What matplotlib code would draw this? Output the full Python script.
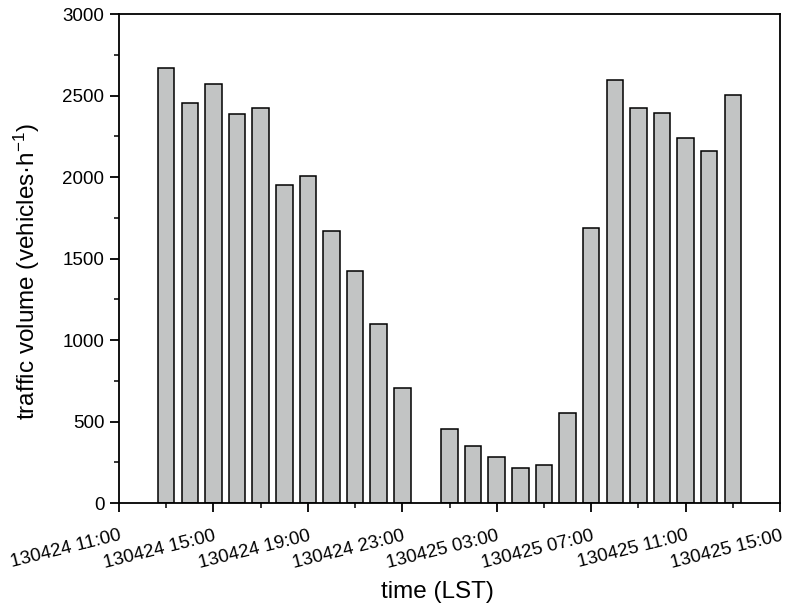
import numpy as np
import pandas as pd
import matplotlib
matplotlib.use("Agg")
import matplotlib.pyplot as plt
import matplotlib.dates as mdates
from matplotlib.ticker import MultipleLocator

plt.rcParams['font.family'] = ['Liberation Sans', 'DejaVu Sans']
plt.rcParams['mathtext.default'] = 'regular'

# hourly traffic volume (vehicles/h), no data at 130425 00:00
horas = ["2013-04-24 13:00", "2013-04-24 14:00", "2013-04-24 15:00", "2013-04-24 16:00",
         "2013-04-24 17:00", "2013-04-24 18:00", "2013-04-24 19:00", "2013-04-24 20:00",
         "2013-04-24 21:00", "2013-04-24 22:00", "2013-04-24 23:00",
         "2013-04-25 01:00", "2013-04-25 02:00", "2013-04-25 03:00", "2013-04-25 04:00",
         "2013-04-25 05:00", "2013-04-25 06:00", "2013-04-25 07:00", "2013-04-25 08:00",
         "2013-04-25 09:00", "2013-04-25 10:00", "2013-04-25 11:00", "2013-04-25 12:00",
         "2013-04-25 13:00"]
trafico = [2667, 2452, 2569, 2385, 2425, 1951, 2008, 1670, 1425, 1100, 707,
           452, 350, 284, 213, 235, 554, 1690, 2597, 2425, 2391, 2241, 2160, 2501]

t = mdates.date2num(pd.to_datetime(horas))
x_ini = mdates.date2num(pd.Timestamp("2013-04-24 11:00"))
x_fin = mdates.date2num(pd.Timestamp("2013-04-25 15:00"))

fig = plt.figure(figsize=(7.86, 6.10), dpi=100)
ax = fig.add_axes([0.1514, 0.1754, 0.8410, 0.8016])

ax.bar(t, trafico, width=0.7 / 24, color="#c2c4c4", edgecolor="black", linewidth=1.1)

ax.set_xlim(x_ini, x_fin)
ax.set_ylim(0, 3000)
ax.xaxis.set_major_locator(mdates.HourLocator(byhour=[3, 7, 11, 15, 19, 23]))
ax.xaxis.set_minor_locator(mdates.HourLocator(byhour=range(1, 24, 2)))
ax.xaxis.set_major_formatter(mdates.DateFormatter("%y%m%d %H:%M"))
ax.yaxis.set_major_locator(MultipleLocator(500))
ax.yaxis.set_minor_locator(MultipleLocator(250))

ax.tick_params(axis="both", which="major", direction="out", length=6.5, width=1.3,
               labelsize=13.5)
ax.tick_params(axis="x", which="major", pad=11)
ax.tick_params(axis="y", which="major", pad=4)
ax.tick_params(axis="both", which="minor", direction="out", length=3.6, width=1.1)
for lab in ax.get_xticklabels():
    lab.set_rotation(14)
    lab.set_ha("right")
    lab.set_rotation_mode("anchor")
for s in ax.spines.values():
    s.set_linewidth(1.3)

ax.set_xlabel("time (LST)", fontsize=17.5)
ax.set_ylabel("traffic volume (vehicles·h$^{-1}$)", fontsize=17.5)
ax.xaxis.set_label_coords(0.481, -0.16)
ax.yaxis.set_label_coords(-0.117, 0.474)

fig.savefig("out.png", dpi=100)
